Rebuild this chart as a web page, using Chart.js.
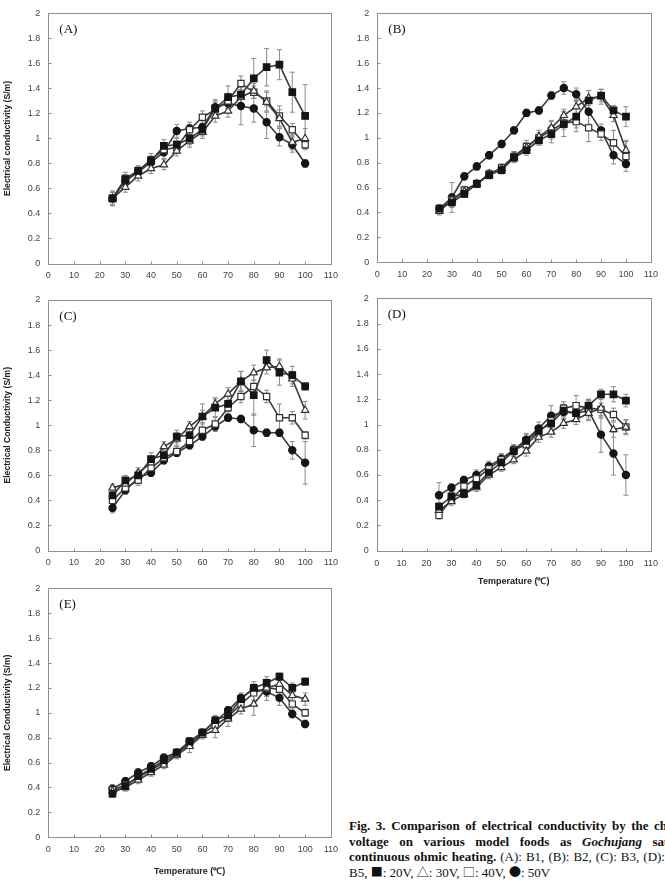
<!DOCTYPE html>
<html><head><meta charset="utf-8">
<script src="https://cdn.jsdelivr.net/npm/chart.js@4.4.0/dist/chart.umd.min.js"></script>
<style>
html,body{margin:0;padding:0;background:#fff;width:665px;height:896px;overflow:hidden;position:relative}
canvas{position:absolute}
.cap{position:absolute;left:349px;font-family:"Liberation Serif","Times New Roman",serif;font-size:13px;line-height:15px;color:#111;white-space:nowrap}
.cap b{font-weight:bold}
.sym{font-family:"Noto Sans CJK KR","Noto Sans CJK SC",sans-serif;font-size:12px}
</style></head><body>
<canvas id="cA" width="345" height="285" style="left:0;top:0"></canvas>
<canvas id="cB" width="330" height="285" style="left:335px;top:0"></canvas>
<canvas id="cC" width="345" height="290" style="left:0;top:285px"></canvas>
<canvas id="cD" width="330" height="305" style="left:335px;top:285px"></canvas>
<canvas id="cE" width="345" height="321" style="left:0;top:575px"></canvas>
<div class="cap" style="top:818px;word-spacing:2.3px"><b>Fig. 3. Comparison of electrical conductivity by the change of</b></div>
<div class="cap" style="top:834px;word-spacing:7.3px"><b>voltage on various model foods as <i>Gochujang</i> sauce during</b></div>
<div class="cap" style="top:849px;word-spacing:0.8px"><b>continuous ohmic heating.</b> (A): B1, (B): B2, (C): B3, (D): B4, (E):</div>
<div class="cap" style="top:864px">B5, <span class="sym">■</span>: 20V, <span class="sym">△</span>: 30V, <span class="sym">□</span>: 40V, <span class="sym">●</span>: 50V</div>
<script>
const temps = [25,30,35,40,45,50,55,60,65,70,75,80,85,90,95,100];
const xTickLabels = ['0','10','20','30','40','50','60','70','80','90','100','110'];
const yTickLabels = ['0','0.2','0.4','0.6','0.8','1','1.2','1.4','1.6','1.8','2'];
const seriesNames = ['20V','30V','40V','50V'];

const a20 = [0.52,0.67,0.74,0.82,0.94,0.95,1.00,1.07,1.24,1.33,1.35,1.48,1.57,1.59,1.37,1.18];
const a30 = [0.52,0.61,0.70,0.76,0.79,0.90,0.98,1.05,1.18,1.22,1.33,1.38,1.29,1.16,0.97,1.00];
const a40 = [0.52,0.68,0.74,0.83,0.91,0.93,1.07,1.17,1.23,1.30,1.44,1.37,1.30,1.18,1.07,0.95];
const a50 = [0.52,0.66,0.73,0.81,0.89,1.06,1.08,1.09,1.25,1.28,1.26,1.24,1.13,1.01,0.95,0.80];
const eA20 = [0.05,0.04,0.04,0.04,0.05,0.05,0.05,0.05,0.06,0.09,0.08,0.16,0.15,0.12,0.16,0.25];
const eA30 = [0.05,0.04,0.04,0.04,0.04,0.04,0.05,0.05,0.05,0.05,0.06,0.06,0.08,0.07,0.06,0.08];
const eA40 = [0.05,0.05,0.04,0.05,0.05,0.05,0.04,0.05,0.06,0.06,0.06,0.05,0.08,0.08,0.05,0.04];
const eA50 = [0.06,0.04,0.04,0.04,0.05,0.05,0.05,0.05,0.06,0.06,0.15,0.11,0.13,0.07,0.06,0.03];

const b20 = [0.43,0.48,0.55,0.63,0.70,0.74,0.84,0.90,0.98,1.03,1.11,1.17,1.30,1.34,1.22,1.17];
const b30 = [0.41,0.50,0.57,0.63,0.71,0.75,0.85,0.92,1.01,1.08,1.18,1.25,1.32,1.33,1.18,0.90];
const b40 = [0.42,0.50,0.58,0.63,0.71,0.76,0.85,0.93,1.00,1.06,1.12,1.13,1.08,1.03,0.96,0.85];
const b50 = [0.43,0.52,0.69,0.77,0.86,0.95,1.06,1.20,1.22,1.34,1.40,1.35,1.21,1.06,0.86,0.79];
const eB20 = [0.03,0.04,0.03,0.03,0.03,0.03,0.04,0.04,0.04,0.07,0.10,0.12,0.08,0.05,0.04,0.08];
const eB30 = [0.03,0.04,0.03,0.03,0.03,0.03,0.04,0.04,0.05,0.06,0.05,0.06,0.06,0.06,0.05,0.08];
const eB40 = [0.03,0.05,0.03,0.03,0.03,0.03,0.04,0.05,0.04,0.07,0.05,0.05,0.11,0.05,0.10,0.12];
const eB50 = [0.03,0.12,0.03,0.03,0.03,0.03,0.03,0.03,0.03,0.03,0.05,0.05,0.10,0.05,0.07,0.03];

const c20 = [0.44,0.56,0.60,0.73,0.76,0.91,0.92,1.07,1.14,1.17,1.35,1.24,1.52,1.42,1.40,1.31];
const c30 = [0.50,0.53,0.62,0.70,0.83,0.89,0.99,1.07,1.17,1.25,1.35,1.42,1.46,1.47,1.37,1.12];
const c40 = [0.40,0.50,0.56,0.66,0.74,0.79,0.87,0.96,1.01,1.14,1.23,1.31,1.23,1.06,1.06,0.92];
const c50 = [0.34,0.48,0.58,0.62,0.72,0.78,0.84,0.91,0.99,1.06,1.05,0.96,0.94,0.94,0.80,0.70];
const eC20 = [0.04,0.04,0.04,0.05,0.04,0.05,0.05,0.10,0.07,0.06,0.08,0.16,0.08,0.10,0.07,0.03];
const eC30 = [0.03,0.04,0.04,0.05,0.04,0.05,0.04,0.05,0.05,0.05,0.08,0.06,0.05,0.06,0.06,0.07];
const eC40 = [0.04,0.04,0.04,0.04,0.04,0.04,0.04,0.05,0.05,0.05,0.05,0.05,0.05,0.11,0.05,0.03];
const eC50 = [0.04,0.03,0.03,0.03,0.03,0.03,0.03,0.03,0.04,0.03,0.03,0.13,0.03,0.03,0.07,0.17];

const d20 = [0.35,0.43,0.45,0.52,0.62,0.70,0.79,0.87,0.95,1.01,1.11,1.09,1.15,1.24,1.24,1.19];
const d30 = [0.32,0.39,0.45,0.50,0.60,0.66,0.72,0.79,0.90,0.94,1.01,1.04,1.09,1.13,0.96,0.98];
const d40 = [0.28,0.41,0.51,0.57,0.65,0.72,0.80,0.84,0.94,1.03,1.13,1.15,1.13,1.12,1.08,0.98];
const d50 = [0.44,0.50,0.56,0.60,0.67,0.73,0.80,0.88,0.97,1.07,1.10,1.09,1.11,0.92,0.77,0.60];
const eD20 = [0.03,0.03,0.03,0.03,0.03,0.03,0.04,0.05,0.04,0.04,0.05,0.05,0.05,0.04,0.06,0.05];
const eD30 = [0.03,0.03,0.03,0.03,0.03,0.03,0.03,0.04,0.04,0.04,0.04,0.04,0.05,0.08,0.06,0.05];
const eD40 = [0.03,0.03,0.03,0.04,0.04,0.04,0.04,0.05,0.05,0.05,0.05,0.08,0.07,0.05,0.05,0.06];
const eD50 = [0.10,0.03,0.03,0.04,0.04,0.04,0.04,0.05,0.05,0.08,0.06,0.05,0.08,0.14,0.17,0.16];

const e20 = [0.35,0.41,0.49,0.55,0.62,0.68,0.77,0.84,0.94,0.98,1.11,1.20,1.24,1.29,1.20,1.25];
const e30 = [0.37,0.40,0.46,0.52,0.58,0.66,0.73,0.82,0.86,0.95,1.03,1.07,1.20,1.23,1.14,1.11];
const e40 = [0.38,0.42,0.48,0.54,0.60,0.67,0.75,0.83,0.90,0.97,1.07,1.16,1.20,1.19,1.07,1.00];
const e50 = [0.39,0.45,0.52,0.57,0.64,0.68,0.77,0.84,0.93,1.02,1.12,1.19,1.17,1.12,0.99,0.91];
const eE20 = [0.03,0.03,0.03,0.03,0.03,0.03,0.03,0.03,0.04,0.04,0.04,0.05,0.05,0.03,0.04,0.03];
const eE30 = [0.03,0.03,0.03,0.03,0.03,0.03,0.05,0.03,0.06,0.06,0.04,0.09,0.05,0.05,0.05,0.05];
const eE40 = [0.03,0.03,0.03,0.03,0.03,0.03,0.03,0.03,0.05,0.04,0.04,0.06,0.07,0.04,0.04,0.03];
const eE50 = [0.03,0.03,0.03,0.03,0.03,0.03,0.03,0.03,0.04,0.03,0.04,0.04,0.07,0.06,0.03,0.03];

const STYLES = [
  {pointStyle:'rect', radius:4.6, bg:'#151515', bd:'#151515'},
  {pointStyle:'triangle', radius:4.2, bg:'#ffffff', bd:'#333'},
  {pointStyle:'rect', radius:4.4, bg:'#ffffff', bd:'#333'},
  {pointStyle:'circle', radius:3.6, bg:'#151515', bd:'#151515'}
];

function makeDatasets(vals, errs) {
  return vals.map((arr, k) => ({
    label: seriesNames[k],
    data: arr.map((v, j) => ({x: temps[j], y: v})),
    errors: errs[k],
    borderColor: '#3a3a3a',
    borderWidth: 1.6,
    pointStyle: STYLES[k].pointStyle,
    pointRadius: STYLES[k].radius,
    pointBackgroundColor: STYLES[k].bg,
    pointBorderColor: STYLES[k].bd,
    pointBorderWidth: 1.2,
    tension: 0,
    clip: false
  }));
}

const panelPlugin = {
  id: 'panel',
  beforeDatasetsDraw(chart, args, opts) {
    const {ctx, chartArea: a} = chart;
    const xs = chart.scales.x, ys = chart.scales.y;
    ctx.save();
    ctx.strokeStyle = '#8f8f8f';
    ctx.lineWidth = 1;
    const L = Math.round(a.left) + 0.5, T = Math.round(a.top) + 0.5;
    const R = Math.round(a.right) + 0.5, B = Math.round(a.bottom) + 0.5;
    ctx.strokeRect(L, T, R - L, B - T);
    ctx.beginPath();
    xs.ticks.forEach(t => { const px = Math.round(xs.getPixelForValue(t.value)) + 0.5; ctx.moveTo(px, B); ctx.lineTo(px, B - 3); });
    ys.ticks.forEach(t => { const py = Math.round(ys.getPixelForValue(t.value)) + 0.5; ctx.moveTo(L, py); ctx.lineTo(L + 3, py); });
    ctx.stroke();
    ctx.strokeStyle = '#8a8a8a';
    chart.data.datasets.forEach(ds => {
      ds.data.forEach((p, j) => {
        const e = ds.errors[j];
        if (!e) return;
        const px = xs.getPixelForValue(p.x);
        const t = ys.getPixelForValue(p.y + e), b = ys.getPixelForValue(p.y - e);
        ctx.beginPath();
        ctx.moveTo(px, t); ctx.lineTo(px, b);
        ctx.moveTo(px - 2.5, t); ctx.lineTo(px + 2.5, t);
        ctx.moveTo(px - 2.5, b); ctx.lineTo(px + 2.5, b);
        ctx.stroke();
      });
    });
    ctx.restore();
  },
  afterDraw(chart, args, opts) {
    const {ctx, chartArea: a} = chart;
    ctx.save();
    ctx.fillStyle = '#111';
    ctx.font = '13px "Liberation Serif", "Times New Roman", serif';
    ctx.textBaseline = 'alphabetic';
    ctx.fillText(opts.label, a.left + 11, a.top + 20);
    ctx.restore();
  }
};

function makeChart(id, label, vals, errs, geo) {
  const tickFont = {family: '"Liberation Sans", Arial, sans-serif', size: 9};
  const titleFont = {family: '"Liberation Sans", Arial, sans-serif', size: 9, weight: 'bold'};
  new Chart(document.getElementById(id), {
    type: 'line',
    data: {datasets: makeDatasets(vals, errs)},
    plugins: [panelPlugin],
    options: {
      responsive: false,
      animation: false,
      devicePixelRatio: 1,
      layout: {padding: {left: 0, top: geo.top, right: geo.right, bottom: 0}},
      plugins: {legend: {display: false}, tooltip: {enabled: false}, panel: {label: label}},
      scales: {
        x: {
          type: 'linear', min: 0, max: 110,
          ticks: {stepSize: 10, font: tickFont, color: '#444', padding: 7, maxRotation: 0,
                  callback: (v, i) => xTickLabels[i]},
          grid: {display: false, drawOnChartArea: false, drawTicks: false},
          border: {display: false},
          title: {display: !!geo.xTitle, text: 'Temperature (\u2103)', font: titleFont, color: '#222',
                  padding: {top: 0, bottom: geo.xTitlePad || 0}},
          afterFit: s => { s.height = geo.xh; }
        },
        y: {
          min: 0, max: 2,
          ticks: {stepSize: 0.2, font: tickFont, color: '#444', padding: 8,
                  callback: (v, i) => yTickLabels[i]},
          grid: {display: false, drawOnChartArea: false, drawTicks: false},
          border: {display: false},
          title: {display: !!geo.yTitle, text: geo.yTitle || '', font: {family: '"Liberation Sans", Arial, sans-serif', size: 8.6, weight: 'bold'}, color: '#222',
                  padding: {top: 2.3, bottom: 0}},
          afterFit: s => { s.width = geo.yw; }
        }
      }
    }
  });
}

makeChart('cA', '(A)', [a20,a30,a40,a50], [eA20,eA30,eA40,eA50],
  {top: 12.7, right: 11.7, yw: 48.3, xh: 285 - 12.7 - 250.8, yTitle: 'Electrical conductivity (S/m)'});
makeChart('cB', '(B)', [b20,b30,b40,b50], [eB20,eB30,eB40,eB50],
  {top: 11.7, right: 11.7, yw: 42.3, xh: 285 - 11.7 - 250.5});
makeChart('cC', '(C)', [c20,c30,c40,c50], [eC20,eC30,eC40,eC50],
  {top: 15, right: 11.7, yw: 48.3, xh: 290 - 15 - 250.5, yTitle: 'Electrical Conductivity (S/m)'});
makeChart('cD', '(D)', [d20,d30,d40,d50], [eD20,eD30,eD40,eD50],
  {top: 13.3, right: 11.7, yw: 41.7, xh: 305 - 13.3 - 252.4, xTitle: true, xTitlePad: 3});
makeChart('cE', '(E)', [e20,e30,e40,e50], [eE20,eE30,eE40,eE50],
  {top: 12.7, right: 11.7, yw: 48.3, xh: 321 - 12.7 - 249.5, xTitle: true, xTitlePad: 19, yTitle: 'Electrical Conductivity (S/m)'});
</script>
</body></html>
